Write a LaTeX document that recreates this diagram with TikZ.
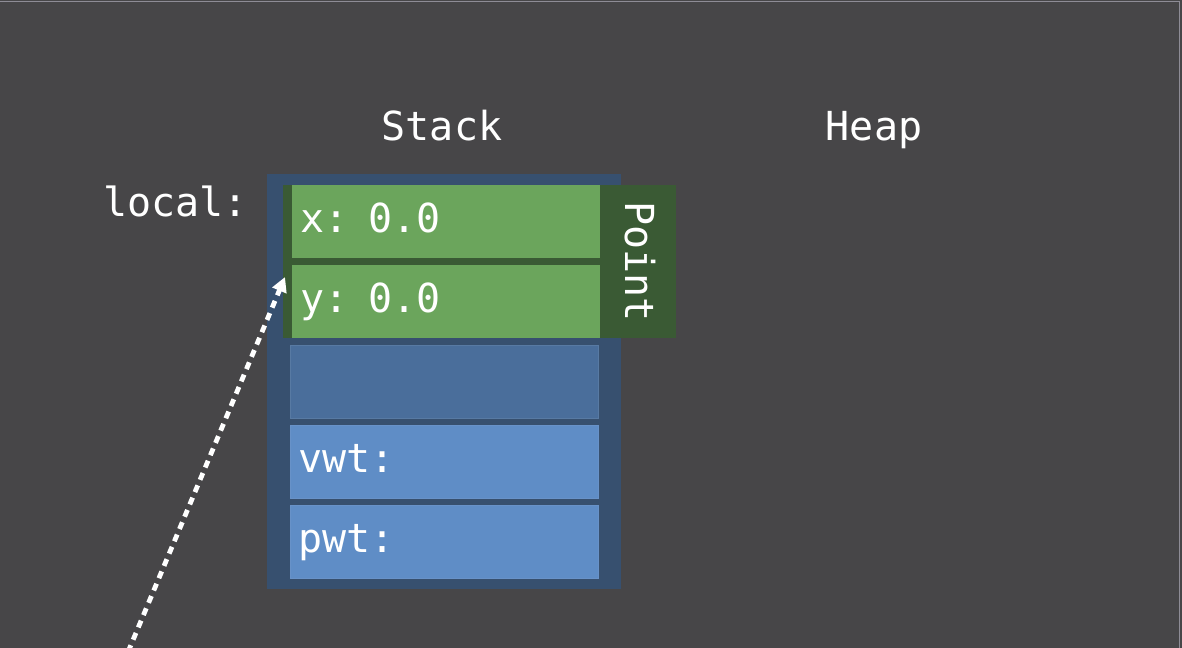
\documentclass[tikz,border=0pt]{standalone}
\usepackage{fontspec}
\setmonofont{DejaVu Sans Mono}
\usetikzlibrary{arrows.meta,positioning}
\definecolor{bgGray}{HTML}{474648}
\definecolor{edgeGray}{HTML}{8E8C96}
\definecolor{stackBlue}{HTML}{37506F}
\definecolor{slotBlue}{HTML}{4A6E9B}
\definecolor{varBlue}{HTML}{5F8DC6}
\definecolor{varEdge}{HTML}{6892C8}
\definecolor{structGreen}{HTML}{3A5A34}
\definecolor{fieldGreen}{HTML}{6BA55C}
\newcommand{\codefont}{\ttfamily\fontsize{30}{36}\selectfont}
\tikzset{
  cell/.style={inner xsep=6pt, inner ysep=0pt, minimum height=54.75pt,
    text width=219pt, align=left, text=white, font=\codefont,
    text height=30pt, text depth=14.2pt},
  title/.style={text=white, font=\codefont, inner sep=0pt},
  ptr/.style={white, line width=3.6pt, dash pattern={on 5.5pt off 4.5pt},
    -{Triangle[length=11pt,width=11pt]}},
}

\begin{document}
\begin{tikzpicture}[x=0.75pt,y=0.75pt,yscale=-1,xscale=1]
\useasboundingbox (0,0) rectangle (1182,648);
\clip (0,0) rectangle (1182,648);

%Background
\fill[bgGray] (0,0) rectangle (1182,648);
\draw[edgeGray, line width=1pt] (0,1.5) -- (1179.5,1.5) -- (1179.5,648);

%Titles
\node[title, anchor=base] (stack) at (442,141) {Stack};
\node[title, anchor=base] (heap) at (874,141) {Heap};
\node[title, anchor=base east] (local) at (248,217) {local:};

%Shape: Rectangle (stack frame)
\fill[stackBlue] (267,174) rectangle (621,589);

%Shape: Rectangle (Point struct)
\fill[structGreen] (283,185) rectangle (676,338);
\node[cell, fill=fieldGreen] (xfield) at (446,221.5) {x: 0.0};
\node[cell, fill=fieldGreen] (yfield) at (446,301.5) {y: 0.0};
\node[title, rotate=-90] (point) at (640,261.5) {Point};

%Stack slots
\node[cell, fill=slotBlue, draw=slotBlue!92!white, line width=0.5pt] (slot) at (444,382) {};
\node[cell, fill=varBlue, draw=varEdge, line width=0.5pt] (vwt) at (444,461.5) {vwt:};
\node[cell, fill=varBlue, draw=varEdge, line width=0.5pt] (pwt) at (444,541.5) {pwt:};

%Straight Lines (reference)
\coordinate (src) at (128,652);
\coordinate (tip) at (285,277);
\draw[ptr] (src) -- (tip);

\end{tikzpicture}
\end{document}
